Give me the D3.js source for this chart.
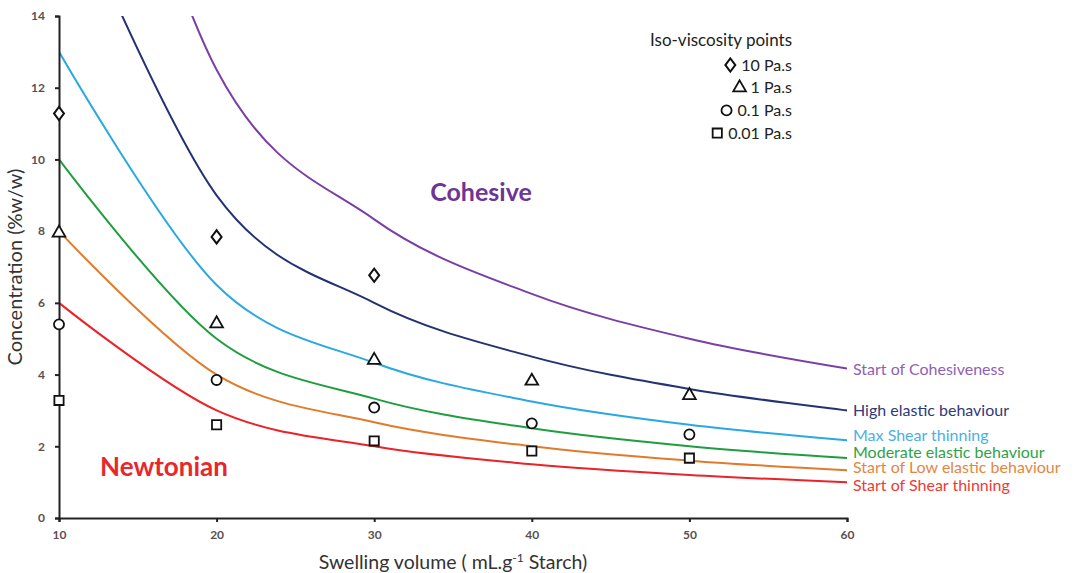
<!DOCTYPE html>
<html>
<head>
<meta charset="utf-8">
<script src="https://cdn.jsdelivr.net/npm/d3@7"></script>
<style>
	body { margin: 0; background: #fff; }
	svg { display: block; font-family: Lato, 'Open Sans', sans-serif; }
	.axis path, .axis line { stroke: #222; stroke-width: 2px; }
	.axis text { fill: #5a5050; font-size: 12px; font-weight: bold; font-family: Lato, sans-serif; }
</style>
</head>
<body>
<svg id="chart"></svg>
<script>
const swelling = [10, 20, 30, 40, 50, 60];

// boundary curves (concentration %w/w at each swelling volume)
const curveNames = [
	'Start of Cohesiveness',
	'High elastic behaviour',
	'Max Shear thinning',
	'Moderate elastic behaviour',
	'Start of Low elastic behaviour',
	'Start of Shear thinning'
];
const curveColors = ['#7a3fa6', '#233272', '#2aa8e2', '#1e9e3e', '#e07b2c', '#eb2227'];
const labelColors = ['#8f61b4', '#2f3a78', '#4ab0e4', '#2ea24a', '#e5863f', '#ee3a35'];
const cohesive = [25, 12.5, 8.33, 6.25, 5, 4.17];
const highElastic = [18, 9, 6, 4.5, 3.6, 3];
const maxShear = [13, 6.5, 4.33, 3.25, 2.6, 2.17];
const moderate = [10, 5, 3.33, 2.5, 2, 1.67];
const lowElastic = [8, 4, 2.67, 2, 1.6, 1.33];
const shearStart = [6, 3, 2, 1.5, 1.2, 1];
const labelY = [4.15, 3.0, 2.29, 1.84, 1.42, 0.9];

// iso-viscosity points
const isoX = [10, 20, 30, 40, 50];
const iso10 = [11.28, 7.84, 6.77];
const iso1 = [7.95, 5.42, 4.4, 3.82, 3.42];
const iso01 = [5.4, 3.85, 3.08, 2.64, 2.33];
const iso001 = [3.28, 2.6, 2.15, 1.87, 1.67];
const isoLabels = ['10 Pa.s', '1 Pa.s', '0.1 Pa.s', '0.01 Pa.s'];

const xTicks = [10, 20, 30, 40, 50, 60];
const yTicks = [0, 2, 4, 6, 8, 10, 12, 14];

const W = 1084, H = 573;
const MARGIN = { top: 16, right: 237, bottom: 55, left: 59 };

const $svg = d3.select('#chart').attr('width', W).attr('height', H);

const x = d3.scaleLinear().domain([10, 60]).range([MARGIN.left, W - MARGIN.right]);
const y = d3.scaleLinear().domain([0, 14]).range([H - MARGIN.bottom, MARGIN.top]);

$svg.append('clipPath').attr('id', 'plot')
	.append('rect')
	.attr('x', x(10)).attr('y', y(14))
	.attr('width', x(60) - x(10)).attr('height', y(0) - y(14));

const series = [cohesive, highElastic, maxShear, moderate, lowElastic, shearStart];

const line = d3.line()
	.x(d => x(d[0]))
	.y(d => y(d[1]))
	.curve(d3.curveCardinal.tension(0));

const $lines = $svg.append('g').attr('clip-path', 'url(#plot)');
series.forEach((vals, i) => {
	$lines.append('path')
		.attr('d', line(swelling.map((s, j) => [s, vals[j]])))
		.attr('fill', 'none')
		.attr('stroke', curveColors[i])
		.attr('stroke-width', 2);
});

// axes
$svg.append('g').attr('class', 'axis')
	.attr('transform', `translate(0,${y(0)})`)
	.call(d3.axisBottom(x).tickValues(xTicks).tickSize(4).tickSizeOuter(4).tickPadding(8));

$svg.append('g').attr('class', 'axis')
	.attr('transform', `translate(${x(10)},0)`)
	.call(d3.axisLeft(y).tickValues(yTicks).tickSize(4).tickSizeOuter(4).tickPadding(10));

// markers
const symbols = [d3.symbolDiamond, d3.symbolTriangle, d3.symbolCircle, d3.symbolSquare];
const symSizes = [60, 70, 80, 85];
const isoSeries = [iso10, iso1, iso01, iso001];

function marker(sel, k) {
	sel.append('path')
		.attr('d', d3.symbol().type(symbols[k]).size(symSizes[k])())
		.attr('fill', '#fff')
		.attr('stroke', '#111')
		.attr('stroke-width', 1.8)
		.attr('transform', k === 0 ? 'scale(1.2,0.92)' : null);
}

isoSeries.forEach((vals, k) => {
	vals.forEach((v, j) => {
		const $g = $svg.append('g').attr('transform', `translate(${x(isoX[j])},${y(v)})`);
		marker($g, k);
	});
});

// curve labels
curveNames.forEach((name, i) => {
	$svg.append('text')
		.attr('x', x(60) + 6)
		.attr('y', y(labelY[i]))
		.attr('dy', '0.35em')
		.attr('font-size', 16)
		.attr('fill', labelColors[i])
		.text(name);
});

// legend
const LEG_X = 792;
$svg.append('text')
	.attr('x', LEG_X).attr('y', 46)
	.attr('text-anchor', 'end')
	.attr('font-size', 17)
	.attr('fill', '#222')
	.text('Iso-viscosity points');

isoLabels.forEach((lab, k) => {
	const ly = 65 + k * 22.7;
	const $t = $svg.append('text')
		.attr('x', LEG_X).attr('y', ly)
		.attr('dy', '0.35em')
		.attr('text-anchor', 'end')
		.attr('font-size', 16)
		.attr('fill', '#222')
		.text(lab);
	const w = $t.node().getComputedTextLength();
	const $g = $svg.append('g').attr('transform', `translate(${LEG_X - w - 11},${ly})`);
	marker($g, k);
});

// region labels
$svg.append('text')
	.attr('x', 481).attr('y', 201)
	.attr('text-anchor', 'middle')
	.attr('font-size', 25)
	.attr('font-weight', 'bold')
	.attr('fill', '#6d3596')
	.text('Cohesive');

$svg.append('text')
	.attr('x', 164).attr('y', 476)
	.attr('text-anchor', 'middle')
	.attr('font-size', 26)
	.attr('font-weight', 'bold')
	.attr('fill', '#e8262b')
	.text('Newtonian');

// axis titles
$svg.append('text')
	.attr('transform', `translate(22,${(y(0) + y(14)) / 2}) rotate(-90)`)
	.attr('text-anchor', 'middle')
	.attr('font-size', 20)
	.attr('fill', '#333')
	.text('Concentration (%w/w)');

const $xt = $svg.append('text')
	.attr('x', 453).attr('y', 569)
	.attr('text-anchor', 'middle')
	.attr('font-size', 19.5)
	.attr('fill', '#333');
$xt.append('tspan').text('Swelling volume ( mL.g');
$xt.append('tspan').attr('font-size', 12).attr('dy', -7).text('-1');
$xt.append('tspan').attr('dy', 7).text(' Starch)');
</script>
</body>
</html>
